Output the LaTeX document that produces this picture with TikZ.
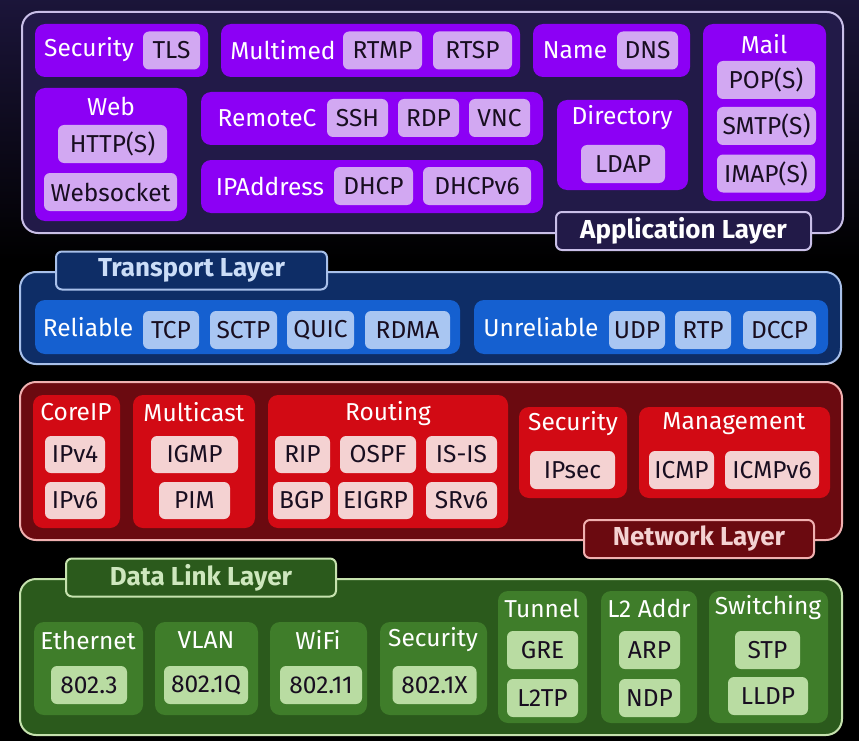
\documentclass[tikz,border=0pt]{standalone}
\usepackage{fontspec}
\setmainfont{Fira Sans}
\usetikzlibrary{positioning}

\definecolor{appdark}{HTML}{221A48}
\definecolor{appline}{HTML}{C9BFE8}
\definecolor{appgrp}{HTML}{8C00F5}
\definecolor{appchip}{HTML}{D2A8F2}
\definecolor{trdark}{HTML}{0E2D66}
\definecolor{trline}{HTML}{A8C0EA}
\definecolor{trgrp}{HTML}{1560D0}
\definecolor{trchip}{HTML}{A9C6F2}
\definecolor{nwdark}{HTML}{6B0A10}
\definecolor{nwline}{HTML}{F0B0B0}
\definecolor{nwgrp}{HTML}{D20A14}
\definecolor{nwchip}{HTML}{F4D2D2}
\definecolor{dldark}{HTML}{2B5A1C}
\definecolor{dlline}{HTML}{C6E2AE}
\definecolor{dlgrp}{HTML}{3F7D2A}
\definecolor{dlchip}{HTML}{B9DCA2}
\definecolor{chiptext}{HTML}{180E20}

\begin{document}
\begin{tikzpicture}[
  x=1pt, y=-1pt,
  font=\fontsize{24.5}{27}\selectfont,
  layer/.style={draw=#1, line width=2pt, rounded corners=16pt, inner sep=0pt},
  tab/.style={draw=#1, line width=2pt, rounded corners=6pt, inner sep=0pt,
    minimum height=38pt, font=\fontsize{26}{28}\selectfont\bfseries},
  grp/.style={fill=#1, rounded corners=10pt, inner sep=0pt},
  chip/.style={fill=#1, rounded corners=6pt, inner sep=0pt, minimum height=38pt,
    text=chiptext},
  lbl/.style={inner sep=0pt, text=white}
]
% background
\fill[black] (0,0) rectangle (859,741);
\shade[top color=appdark!80!black, bottom color=black] (0,0) rectangle (859,260);
\useasboundingbox (0,0) rectangle (859,741);

%% Application layer
\node[layer=appline, fill=appdark, minimum width=821pt, minimum height=221pt] (app) at (432.5,122.5) {};

\node[grp=appgrp, minimum width=173pt, minimum height=53pt] (asec) at (121.5,50.5) {};
\node[lbl] (aseclbl) at (89,50) {Security};
\node[chip=appchip, minimum width=57pt] (tls) at (171.5,50.5) {TLS};

\node[grp=appgrp, minimum width=299pt, minimum height=53pt] (amm) at (370.5,50.5) {};
\node[lbl] (ammlbl) at (283,50) {Multimed};
\node[chip=appchip, minimum width=79pt] (rtmp) at (382.5,50.5) {RTMP};
\node[chip=appchip, minimum width=79pt] (rtsp) at (472.5,50.5) {RTSP};

\node[grp=appgrp, minimum width=157pt, minimum height=53pt] (aname) at (611.5,50.5) {};
\node[lbl] (anamelbl) at (575,50) {Name};
\node[chip=appchip, minimum width=61pt] (dns) at (647.5,50.5) {DNS};

\node[grp=appgrp, minimum width=123pt, minimum height=177pt] (amail) at (764.5,112.5) {};
\node[lbl] (amaillbl) at (764,44) {Mail};
\node[chip=appchip, minimum width=98pt] (pops) at (766,80) {POP(S)};
\node[chip=appchip, minimum width=99pt] (smtps) at (766.5,126) {SMTP(S)};
\node[chip=appchip, minimum width=98pt] (imaps) at (766,173.5) {IMAP(S)};

\node[grp=appgrp, minimum width=152pt, minimum height=133pt] (aweb) at (111,154.5) {};
\node[lbl] (aweblbl) at (111,106) {Web};
\node[chip=appchip, minimum width=109pt] (https) at (112.5,144) {HTTP(S)};
\node[chip=appchip, minimum width=133pt] (wsock) at (110.5,192) {Websocket};

\node[grp=appgrp, minimum width=342pt, minimum height=53pt] (arem) at (372,118.5) {};
\node[lbl] (aremlbl) at (267,118) {RemoteC};
\node[chip=appchip, minimum width=61pt] (ssh) at (357.5,118) {SSH};
\node[chip=appchip, minimum width=61pt] (rdp) at (428.5,118) {RDP};
\node[chip=appchip, minimum width=61pt] (vnc) at (499.5,118) {VNC};

\node[grp=appgrp, minimum width=342pt, minimum height=53pt] (aip) at (372,186.5) {};
\node[lbl] (aiplbl) at (270,186) {IPAddress};
\node[chip=appchip, minimum width=79pt] (dhcp) at (373.5,186) {DHCP};
\node[chip=appchip, minimum width=108pt] (dhcpsix) at (477,186) {DHCPv6};

\node[grp=appgrp, minimum width=131pt, minimum height=90pt] (adir) at (622.5,145) {};
\node[lbl] (adirlbl) at (622,118) {Directory};
\node[chip=appchip, minimum width=84pt] (ldap) at (623,164) {LDAP};

\node[tab=appline, fill=appdark, minimum width=255pt, text=white] (apptitle) at (683.5,231) {Application Layer};

%% Transport layer
\node[layer=trline, fill=trdark, minimum width=821pt, minimum height=92pt] (tr) at (430.5,318) {};
\node[tab=trline, fill=trdark, minimum width=271pt, text=trchip!60!white] (trtitle) at (191.5,270.5) {Transport Layer};

\node[grp=trgrp, minimum width=425pt, minimum height=54pt] (rel) at (247.5,327) {};
\node[lbl] (rellbl) at (88,327) {Reliable};
\node[chip=trchip, minimum width=56pt] (tcp) at (171,330) {TCP};
\node[chip=trchip, minimum width=67pt] (sctp) at (243.5,330) {SCTP};
\node[chip=trchip, minimum width=67pt] (quic) at (320.5,330) {QUIC};
\node[chip=trchip, minimum width=85pt] (rdma) at (407.5,330) {RDMA};

\node[grp=trgrp, minimum width=354pt, minimum height=54pt] (unrel) at (651,327) {};
\node[lbl] (unrellbl) at (541,327) {Unreliable};
\node[chip=trchip, minimum width=56pt] (udp) at (637,330) {UDP};
\node[chip=trchip, minimum width=56pt] (rtp) at (703,330) {RTP};
\node[chip=trchip, minimum width=73pt] (dccp) at (779.5,330) {DCCP};

%% Network layer
\node[layer=nwline, fill=nwdark, minimum width=822pt, minimum height=158pt] (nw) at (431,461) {};

\node[grp=nwgrp, minimum width=87pt, minimum height=133pt] (core) at (76.5,461.5) {};
\node[lbl] (corelbl) at (76,412) {CoreIP};
\node[chip=nwchip, minimum width=60pt, minimum height=37pt] (ipv4) at (75,454.5) {IPv4};
\node[chip=nwchip, minimum width=60pt, minimum height=37pt] (ipv6) at (75,500.5) {IPv6};

\node[grp=nwgrp, minimum width=122pt, minimum height=133pt] (mcast) at (194,461.5) {};
\node[lbl] (mcastlbl) at (194,412) {Multicast};
\node[chip=nwchip, minimum width=87pt, minimum height=37pt] (igmp) at (194.5,454.5) {IGMP};
\node[chip=nwchip, minimum width=71pt, minimum height=37pt] (pim) at (194.5,500.5) {PIM};

\node[grp=nwgrp, minimum width=240pt, minimum height=133pt] (rout) at (388,461.5) {};
\node[lbl] (routlbl) at (388,414) {Routing};
\node[chip=nwchip, minimum width=55pt, minimum height=37pt] (rip) at (302.5,454.5) {RIP};
\node[chip=nwchip, minimum width=76pt, minimum height=37pt] (ospf) at (378,454.5) {OSPF};
\node[chip=nwchip, minimum width=71pt, minimum height=37pt] (isis) at (461.5,454.5) {IS-IS};
\node[chip=nwchip, minimum width=57pt, minimum height=37pt] (bgp) at (301.5,500.5) {BGP};
\node[chip=nwchip, minimum width=75pt, minimum height=37pt] (eigrp) at (375.5,500.5) {EIGRP};
\node[chip=nwchip, minimum width=71pt, minimum height=37pt] (srv6) at (461.5,500.5) {SRv6};

\node[grp=nwgrp, minimum width=108pt, minimum height=91pt] (nsec) at (573,452.5) {};
\node[lbl] (nseclbl) at (573,424) {Security};
\node[chip=nwchip, minimum width=85pt] (ipsec) at (572.5,470) {IPsec};

\node[grp=nwgrp, minimum width=191pt, minimum height=91pt] (mgmt) at (734.5,452.5) {};
\node[lbl] (mgmtlbl) at (734,424) {Management};
\node[chip=nwchip, minimum width=65pt] (icmp) at (681.5,470) {ICMP};
\node[chip=nwchip, minimum width=94pt] (icmpsix) at (772,470) {ICMPv6};

\node[tab=nwline, fill=nwdark, minimum width=230pt, text=nwchip] (nwtitle) at (699,539) {Network Layer};

%% Data link layer
\node[layer=dlline, fill=dldark, minimum width=822pt, minimum height=156pt] (dl) at (431,657) {};
\node[tab=dlline, fill=dldark, minimum width=270pt, text=dlchip!70!white] (dltitle) at (201,577.5) {Data Link Layer};

\node[grp=dlgrp, minimum width=109pt, minimum height=93pt] (eth) at (88.5,668.5) {};
\node[lbl] (ethlbl) at (88,640) {Ethernet};
\node[chip=dlchip, minimum width=76pt] (ieee3) at (89,685) {802.3};

\node[grp=dlgrp, minimum width=103pt, minimum height=93pt] (vlan) at (206.5,668.5) {};
\node[lbl] (vlanlbl) at (206,640) {VLAN};
\node[chip=dlchip, minimum width=84pt] (ieeeq) at (206,685) {802.1Q};

\node[grp=dlgrp, minimum width=97pt, minimum height=93pt] (wifi) at (318.5,668.5) {};
\node[lbl] (wifilbl) at (318,640) {WiFi};
\node[chip=dlchip, minimum width=82pt] (ieee11) at (321,685) {802.11};

\node[grp=dlgrp, minimum width=107pt, minimum height=93pt] (dsec) at (433.5,668.5) {};
\node[lbl] (dseclbl) at (433,640) {Security};
\node[chip=dlchip, minimum width=84pt] (ieeex) at (434.5,685) {802.1X};

\node[grp=dlgrp, minimum width=89pt, minimum height=132pt] (tun) at (542.5,657) {};
\node[lbl] (tunlbl) at (542,608) {Tunnel};
\node[chip=dlchip, minimum width=71pt] (gre) at (542.5,650) {GRE};
\node[chip=dlchip, minimum width=71pt] (ltwotp) at (542.5,698) {L2TP};

\node[grp=dlgrp, minimum width=96pt, minimum height=132pt] (ltwo) at (649,657) {};
\node[lbl] (ltwolbl) at (649,608) {L2 Addr};
\node[chip=dlchip, minimum width=61pt] (arp) at (649.5,650) {ARP};
\node[chip=dlchip, minimum width=61pt] (ndp) at (649.5,698) {NDP};

\node[grp=dlgrp, minimum width=119pt, minimum height=132pt] (sw) at (768.5,657) {};
\node[lbl] (swlbl) at (768,608) {Switching};
\node[chip=dlchip, minimum width=65pt] (stp) at (767.5,650) {STP};
\node[chip=dlchip, minimum width=80pt] (lldp) at (768,696) {LLDP};
\end{tikzpicture}
\end{document}
